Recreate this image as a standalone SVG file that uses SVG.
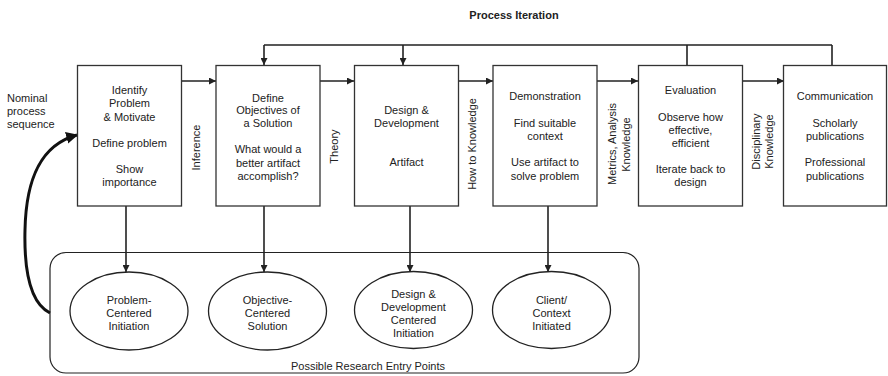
<svg xmlns="http://www.w3.org/2000/svg" width="888" height="376" viewBox="0 0 888 376">
<style>
text{font-family:"Liberation Sans",Arial,sans-serif;font-size:11px;fill:#222;}
.c{text-anchor:middle;}
.box{fill:#fff;stroke:#333;stroke-width:1.3;}
.ell{fill:#fff;stroke:#222;stroke-width:1.3;}
.ln{fill:none;stroke:#222;stroke-width:1.6;}
.thin{fill:none;stroke:#222;stroke-width:1.2;}
</style>
<defs>
<marker id="ah" viewBox="0 0 10 10" refX="10" refY="5" markerWidth="7" markerHeight="7" markerUnits="userSpaceOnUse" orient="auto">
<path d="M0,0 L10,5 L0,10 z" fill="#222"/>
</marker>
<marker id="ahb" viewBox="0 0 10 10" refX="9" refY="5" markerWidth="4" markerHeight="4" orient="auto">
<path d="M0,0 L10,5 L0,10 z" fill="#111"/>
</marker>
</defs>

<text class="c" x="514" y="19" font-weight="bold">Process Iteration</text>

<g id="container">
<rect x="50" y="252.5" width="589" height="120.5" rx="16" ry="16" class="thin"/>
<text class="c" x="368" y="370">Possible Research Entry Points</text>
</g>

<g id="connectors">
<path class="ln" d="M264,45 H832 M832,45 V65 M687,45 V65"/>
<path class="ln" d="M264,45 V65" marker-end="url(#ah)"/>
<path class="ln" d="M403,45 V65" marker-end="url(#ah)"/>
<path class="ln" d="M182,81 H216" marker-end="url(#ah)"/>
<path class="ln" d="M320,81 H354" marker-end="url(#ah)"/>
<path class="ln" d="M458,81 H493" marker-end="url(#ah)"/>
<path class="ln" d="M597,81 H638" marker-end="url(#ah)"/>
<path class="ln" d="M742,81 H784" marker-end="url(#ah)"/>
<path class="ln" d="M126,206 V272" marker-end="url(#ah)"/>
<path class="ln" d="M264,206 V272" marker-end="url(#ah)"/>
<path class="ln" d="M410,206 V272" marker-end="url(#ah)"/>
<path class="ln" d="M548,206 V272" marker-end="url(#ah)"/>
<path d="M50,313 C30,303 24,270 25,230 C26,180 40,145 77,135" fill="none" stroke="#111" stroke-width="3" marker-end="url(#ahb)"/>
</g>

<g id="nominal">
<text x="7" y="101.5">Nominal</text>
<text x="7" y="115">process</text>
<text x="7" y="128">sequence</text>
</g>

<g id="box1">
<rect x="77.5" y="65.5" width="104" height="140.5" class="box"/>
<text class="c" x="129.5" y="94">Identify</text>
<text class="c" x="129.5" y="107">Problem</text>
<text class="c" x="129.5" y="120.5">&amp; Motivate</text>
<text class="c" x="129.5" y="147">Define problem</text>
<text class="c" x="129.5" y="173">Show</text>
<text class="c" x="129.5" y="186">importance</text>
</g>

<g id="box2">
<rect x="216" y="65.5" width="104" height="140.5" class="box"/>
<text class="c" x="268" y="101.5">Define</text>
<text class="c" x="268" y="114">Objectives of</text>
<text class="c" x="268" y="127">a Solution</text>
<text class="c" x="268" y="153">What would a</text>
<text class="c" x="268" y="167">better artifact</text>
<text class="c" x="268" y="180">accomplish?</text>
</g>

<g id="box3">
<rect x="354.5" y="65.5" width="104" height="140.5" class="box"/>
<text class="c" x="406.5" y="114">Design &amp;</text>
<text class="c" x="406.5" y="127">Development</text>
<text class="c" x="406.5" y="166">Artifact</text>
</g>

<g id="box4">
<rect x="493" y="65.5" width="104" height="140.5" class="box"/>
<text class="c" x="545" y="100">Demonstration</text>
<text class="c" x="545" y="127">Find suitable</text>
<text class="c" x="545" y="140">context</text>
<text class="c" x="545" y="166">Use artifact to</text>
<text class="c" x="545" y="180">solve problem</text>
</g>

<g id="box5">
<rect x="638.5" y="65.5" width="104" height="140.5" class="box"/>
<text class="c" x="690.5" y="94">Evaluation</text>
<text class="c" x="690.5" y="121">Observe how</text>
<text class="c" x="690.5" y="133.5">effective,</text>
<text class="c" x="690.5" y="147">efficient</text>
<text class="c" x="690.5" y="173">Iterate back to</text>
<text class="c" x="690.5" y="186">design</text>
</g>

<g id="box6">
<rect x="783.5" y="65.5" width="103" height="140.5" class="box"/>
<text class="c" x="835" y="100">Communication</text>
<text class="c" x="835" y="127">Scholarly</text>
<text class="c" x="835" y="140">publications</text>
<text class="c" x="835" y="166">Professional</text>
<text class="c" x="835" y="180">publications</text>
</g>

<g id="labels">
<text class="c" transform="translate(200,147.5) rotate(-90)">Inference</text>
<text class="c" transform="translate(338,146.5) rotate(-90)">Theory</text>
<text class="c" transform="translate(475.5,144) rotate(-90)">How to Knowledge</text>
<text class="c" transform="translate(616,144) rotate(-90)">Metrics, Analysis</text>
<text class="c" transform="translate(629.5,144.5) rotate(-90)">Knowledge</text>
<text class="c" transform="translate(759.5,141.5) rotate(-90)">Disciplinary</text>
<text class="c" transform="translate(773,141.5) rotate(-90)">Knowledge</text>
</g>

<g id="e1">
<ellipse cx="129" cy="311" rx="59" ry="39" class="ell"/>
<text class="c" x="129" y="304">Problem-</text>
<text class="c" x="129" y="317">Centered</text>
<text class="c" x="129" y="330">Initiation</text>
</g>
<g id="e2">
<ellipse cx="267.5" cy="311" rx="59" ry="39" class="ell"/>
<text class="c" x="267.5" y="304">Objective-</text>
<text class="c" x="267.5" y="317">Centered</text>
<text class="c" x="267.5" y="330">Solution</text>
</g>
<g id="e3">
<ellipse cx="413.5" cy="310" rx="59" ry="38.5" class="ell"/>
<text class="c" x="413.5" y="298">Design &amp;</text>
<text class="c" x="413.5" y="311">Development</text>
<text class="c" x="413.5" y="323.5">Centered</text>
<text class="c" x="413.5" y="337">Initiation</text>
</g>
<g id="e4">
<ellipse cx="551.5" cy="310" rx="59" ry="38.5" class="ell"/>
<text class="c" x="551.5" y="304">Client/</text>
<text class="c" x="551.5" y="317">Context</text>
<text class="c" x="551.5" y="330">Initiated</text>
</g>
</svg>
